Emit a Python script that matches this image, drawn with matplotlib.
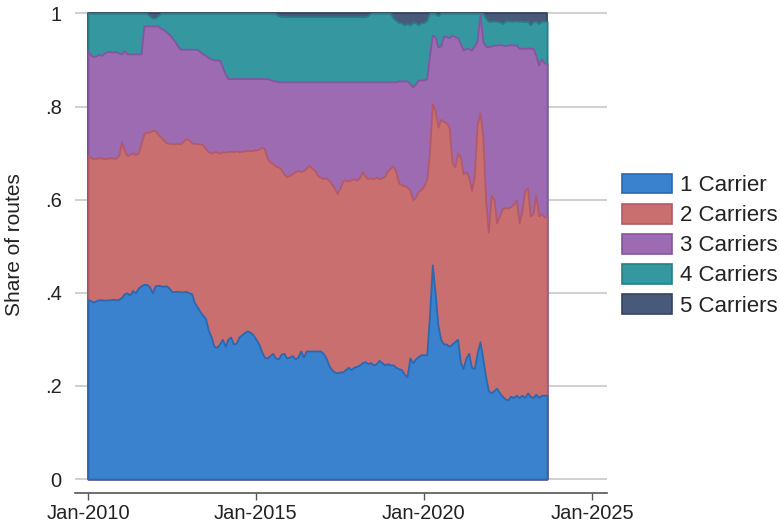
import matplotlib
matplotlib.use('Agg')
import matplotlib.pyplot as plt
import matplotlib.dates as mdates
from matplotlib.patches import Patch
import numpy as np
import pandas as pd

plt.rcParams['font.family'] = ['Liberation Sans', 'DejaVu Sans']

# monthly, Jan-2010 .. Sep-2023
months = pd.date_range('2010-01-01', periods=165, freq='MS').to_numpy()

# cumulative share of routes served by at most k carriers
le1 = [
    0.385, 0.383, 0.380, 0.383, 0.385, 0.385, 0.384, 0.385, 0.385, 0.386, 0.385, 0.386,
    0.390, 0.398, 0.400, 0.395, 0.405, 0.400, 0.410, 0.415, 0.418, 0.418, 0.413, 0.400,
    0.415, 0.416, 0.415, 0.414, 0.415, 0.410, 0.402, 0.403, 0.403, 0.402, 0.402, 0.403,
    0.400, 0.398, 0.380, 0.370, 0.360, 0.352, 0.345, 0.320, 0.305, 0.285, 0.283, 0.290,
    0.300, 0.285, 0.300, 0.305, 0.290, 0.292, 0.305, 0.310, 0.315, 0.318, 0.315, 0.310,
    0.300, 0.290, 0.275, 0.262, 0.260, 0.265, 0.270, 0.260, 0.258, 0.268, 0.270, 0.260,
    0.262, 0.265, 0.258, 0.262, 0.275, 0.262, 0.275, 0.275, 0.275, 0.275, 0.275, 0.275,
    0.270, 0.260, 0.245, 0.235, 0.230, 0.228, 0.230, 0.230, 0.235, 0.240, 0.235, 0.240,
    0.242, 0.245, 0.250, 0.252, 0.248, 0.250, 0.245, 0.248, 0.255, 0.250, 0.245, 0.248,
    0.245, 0.245, 0.240, 0.237, 0.235, 0.225, 0.220, 0.260, 0.250, 0.258, 0.263, 0.267,
    0.267, 0.267, 0.350, 0.460, 0.400, 0.330, 0.300, 0.290, 0.290, 0.285, 0.290, 0.295,
    0.300, 0.250, 0.237, 0.260, 0.270, 0.240, 0.237, 0.270, 0.295, 0.260, 0.220, 0.190,
    0.185, 0.190, 0.195, 0.185, 0.178, 0.172, 0.170, 0.178, 0.175, 0.180, 0.175, 0.180,
    0.175, 0.185, 0.178, 0.175, 0.182, 0.175, 0.180, 0.180, 0.180,
]
le2 = [
    0.696, 0.690, 0.688, 0.689, 0.690, 0.689, 0.688, 0.689, 0.690, 0.689, 0.689, 0.695,
    0.724, 0.705, 0.695, 0.697, 0.700, 0.697, 0.700, 0.720, 0.742, 0.745, 0.745, 0.749,
    0.748, 0.740, 0.735, 0.728, 0.722, 0.721, 0.720, 0.720, 0.721, 0.720, 0.725, 0.731,
    0.728, 0.722, 0.721, 0.720, 0.720, 0.718, 0.710, 0.703, 0.700, 0.703, 0.702, 0.700,
    0.703, 0.702, 0.703, 0.704, 0.703, 0.705, 0.703, 0.704, 0.705, 0.706, 0.705, 0.706,
    0.707, 0.708, 0.713, 0.710, 0.690, 0.681, 0.678, 0.672, 0.671, 0.665, 0.655, 0.649,
    0.652, 0.656, 0.660, 0.663, 0.660, 0.662, 0.668, 0.674, 0.667, 0.663, 0.652, 0.648,
    0.645, 0.647, 0.642, 0.635, 0.625, 0.613, 0.625, 0.640, 0.642, 0.640, 0.643, 0.645,
    0.642, 0.648, 0.660, 0.650, 0.645, 0.647, 0.645, 0.648, 0.645, 0.647, 0.650, 0.662,
    0.668, 0.672, 0.660, 0.636, 0.632, 0.630, 0.628, 0.620, 0.600, 0.605, 0.618, 0.622,
    0.630, 0.643, 0.700, 0.806, 0.790, 0.756, 0.772, 0.768, 0.765, 0.755, 0.680, 0.670,
    0.700, 0.690, 0.655, 0.660, 0.650, 0.620, 0.650, 0.760, 0.786, 0.740, 0.600, 0.530,
    0.610, 0.600, 0.550, 0.565, 0.580, 0.583, 0.582, 0.585, 0.590, 0.600, 0.550, 0.575,
    0.620, 0.625, 0.565, 0.570, 0.610, 0.565, 0.570, 0.563, 0.563,
]
le3 = [
    0.920, 0.910, 0.907, 0.909, 0.912, 0.910, 0.915, 0.918, 0.918, 0.917, 0.918, 0.915,
    0.913, 0.920, 0.913, 0.913, 0.913, 0.913, 0.913, 0.913, 0.973, 0.973, 0.973, 0.973,
    0.973, 0.973, 0.968, 0.965, 0.960, 0.955, 0.948, 0.940, 0.930, 0.923, 0.923, 0.923,
    0.923, 0.923, 0.923, 0.923, 0.918, 0.913, 0.910, 0.905, 0.902, 0.900, 0.900, 0.900,
    0.885, 0.870, 0.860, 0.860, 0.860, 0.860, 0.860, 0.860, 0.860, 0.860, 0.860, 0.860,
    0.860, 0.860, 0.860, 0.860, 0.860, 0.858, 0.856, 0.855, 0.853, 0.853, 0.853, 0.853,
    0.853, 0.853, 0.853, 0.853, 0.853, 0.853, 0.853, 0.853, 0.853, 0.853, 0.853, 0.853,
    0.853, 0.853, 0.853, 0.853, 0.853, 0.853, 0.853, 0.853, 0.853, 0.853, 0.853, 0.853,
    0.853, 0.853, 0.853, 0.853, 0.853, 0.853, 0.853, 0.853, 0.853, 0.853, 0.853, 0.853,
    0.853, 0.853, 0.853, 0.855, 0.855, 0.855, 0.855, 0.850, 0.842, 0.848, 0.857, 0.857,
    0.857, 0.860, 0.910, 0.953, 0.950, 0.928, 0.930, 0.951, 0.950, 0.948, 0.953, 0.950,
    0.948, 0.935, 0.921, 0.925, 0.925, 0.921, 0.930, 0.940, 1.000, 0.940, 0.930, 0.928,
    0.930, 0.932, 0.932, 0.933, 0.932, 0.931, 0.932, 0.933, 0.932, 0.932, 0.925, 0.925,
    0.925, 0.926, 0.925, 0.925, 0.910, 0.889, 0.903, 0.893, 0.893,
]
le4 = [
    1.000, 1.000, 1.000, 1.000, 1.000, 1.000, 1.000, 1.000, 1.000, 1.000, 1.000, 1.000,
    1.000, 1.000, 1.000, 1.000, 1.000, 1.000, 1.000, 1.000, 1.000, 1.000, 0.995, 0.990,
    0.990, 0.995, 1.000, 1.000, 1.000, 1.000, 1.000, 1.000, 1.000, 1.000, 1.000, 1.000,
    1.000, 1.000, 1.000, 1.000, 1.000, 1.000, 1.000, 1.000, 1.000, 1.000, 1.000, 1.000,
    1.000, 1.000, 1.000, 1.000, 1.000, 1.000, 1.000, 1.000, 1.000, 1.000, 1.000, 1.000,
    1.000, 1.000, 1.000, 1.000, 1.000, 1.000, 1.000, 1.000, 0.995, 0.993, 0.993, 0.993,
    0.993, 0.993, 0.993, 0.993, 0.993, 0.993, 0.993, 0.993, 0.993, 0.993, 0.993, 0.993,
    0.993, 0.993, 0.993, 0.993, 0.993, 0.993, 0.993, 0.993, 0.993, 0.993, 0.993, 0.993,
    0.993, 0.993, 0.993, 0.993, 0.995, 1.000, 1.000, 1.000, 1.000, 1.000, 1.000, 1.000,
    1.000, 0.990, 0.985, 0.980, 0.980, 0.975, 0.978, 0.975, 0.980, 0.980, 0.975, 0.980,
    0.980, 0.985, 1.000, 1.000, 1.000, 0.995, 1.000, 1.000, 1.000, 1.000, 1.000, 1.000,
    1.000, 1.000, 1.000, 1.000, 1.000, 1.000, 1.000, 1.000, 1.000, 1.000, 0.990, 0.983,
    0.983, 0.984, 0.983, 0.982, 0.978, 0.983, 0.984, 0.983, 0.983, 0.984, 0.983, 0.983,
    0.982, 0.983, 0.975, 0.982, 0.983, 0.978, 0.983, 0.983, 0.983,
]
le5 = [1.0] * len(months)

labels = ['1 Carrier', '2 Carriers', '3 Carriers', '4 Carriers', '5 Carriers']
fills = ['#3A81CE', '#C96F70', '#9C6BB2', '#35979F', '#48597A']
edges = ['#2B68B0', '#B3596A', '#8455A0', '#267F88', '#34445F']

for s in (le1, le2, le3, le4):
    assert len(s) == len(months), len(s)

fig = plt.figure(figsize=(7.8, 5.23), dpi=100)
ax = fig.add_axes([75 / 780, 30 / 523, 532 / 780, 488 / 523])

# Stata-style: each layer is an area from 0, drawn back to front
cums = [le1, le2, le3, le4, le5]
for k in range(4, -1, -1):
    ax.fill_between(months, 0, cums[k], facecolor=fills[k], edgecolor=edges[k],
                    linewidth=1.3, zorder=2 + (4 - k))

ax.set_ylim(-0.030, 1.018)
ax.set_xlim(np.datetime64('2009-08-13'), np.datetime64('2025-06-13'))

ax.set_yticks([0, 0.2, 0.4, 0.6, 0.8, 1.0])
ax.set_yticklabels(['0', '.2', '.4', '.6', '.8', '1'])
ax.grid(axis='y', color='#cfcfcf', linewidth=1.4, zorder=0)
ax.set_axisbelow(True)

ax.set_xticks([np.datetime64('2010-01-01'), np.datetime64('2015-01-01'),
               np.datetime64('2020-01-01'), np.datetime64('2025-01-01')])
ax.xaxis.set_major_formatter(mdates.DateFormatter('%b-%Y'))

for side in ('left', 'right', 'top'):
    ax.spines[side].set_visible(False)
ax.spines['bottom'].set_color('#555555')
ax.spines['bottom'].set_linewidth(1.2)

ax.tick_params(axis='y', length=0, pad=9.5, labelsize=14.5, labelcolor='#222222')
ax.tick_params(axis='x', length=5, width=1.0, color='#555555', pad=3,
               labelsize=14.5, labelcolor='#222222')

fig.text(14.5 / 780, 1 - 245 / 523, 'Share of routes', rotation=90,
         ha='center', va='center', fontsize=15, color='#222222')

handles = [Patch(facecolor=f, edgecolor=e, linewidth=1.2) for f, e in zip(fills, edges)]
fig.legend(handles, labels, loc='center left', bbox_to_anchor=(622 / 780, 1 - 245 / 523),
           frameon=False, fontsize=16, borderpad=0, borderaxespad=0,
           handlelength=2.25, handleheight=1.0, handletextpad=0.36, labelspacing=0.34,
           labelcolor='#222222')

fig.savefig('out.png', dpi=100)
